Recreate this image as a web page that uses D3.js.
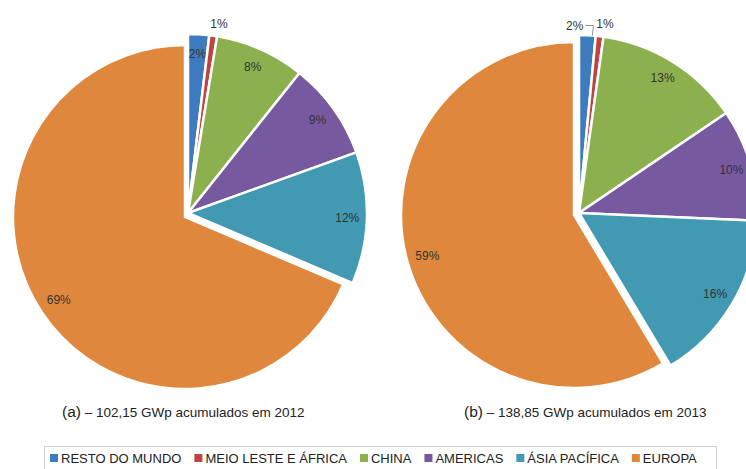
<!DOCTYPE html>
<html>
<head>
<meta charset="utf-8">
<script src="https://cdn.jsdelivr.net/npm/d3@7"></script>
<style>
  html, body { margin: 0; padding: 0; background: #fff; }
  svg { display: block; }
  text { font-family: "Liberation Sans", Arial, sans-serif; }
</style>
</head>
<body>
<svg id="chart" width="746" height="469"></svg>
<script>
// ---- data ----
const categories = ["RESTO DO MUNDO", "MEIO LESTE E ÁFRICA", "CHINA", "AMERICAS", "ÁSIA PACÍFICA", "EUROPA"];
const colors = ["#3F7CBF", "#C0433F", "#8DB04F", "#7759A0", "#4299B2", "#DF873C"];
const values2012 = [1.9, 0.7, 8.1, 8.8, 11.9, 68.6];
const values2013 = [1.5, 0.7, 13.3, 10.2, 15.7, 58.6];
const captionTags = ["(a)", "(b)"];
const captionTexts = [" – 102,15 GWp acumulados em 2012", " – 138,85 GWp acumulados em 2013"];

// ---- layout ----
const svg = d3.select("#chart");
const charts = [
  { values: values2012, cs: [188, 213], rs: 179, co: [185, 217], ro: 172, capX: 62 },
  { values: values2013, cs: [579, 213], rs: 178, co: [574, 215], ro: 173, capX: 464 }
];

const pie = d3.pie().sort(null).value(d => d.v);

charts.forEach((c, ci) => {
  const data = categories.map((name, i) => ({ name, v: c.values[i], color: colors[i] }));
  const arcs = pie(data);
  const total = d3.sum(c.values);
  const g = svg.append("g");

  arcs.forEach((a, i) => {
    const isMain = a.data.name === "EUROPA";
    const ctr = isMain ? c.co : c.cs;
    const R = isMain ? c.ro : c.rs;
    const arc = d3.arc().innerRadius(0).outerRadius(R);
    const sg = g.append("g").attr("transform", `translate(${ctr[0]},${ctr[1]})`);
    sg.append("path")
      .attr("d", arc(a))
      .attr("fill", a.data.color)
      .attr("stroke", "#fff")
      .attr("stroke-width", 2.5)
      .attr("stroke-linejoin", "miter");

    const pct = Math.round(a.data.v / total * 100) + "%";
    const span = a.endAngle - a.startAngle;
    const mid = (a.startAngle + a.endAngle) / 2;
    const lblStyle = t => t.attr("font-size", 12).attr("fill", "#333");

    if (span >= 0.113) {
      const d = R * (isMain ? 0.88 : 0.89);
      sg.append("text")
        .attr("x", Math.sin(mid) * d)
        .attr("y", -Math.cos(mid) * d)
        .attr("text-anchor", "middle")
        .attr("dominant-baseline", "central")
        .text(pct).call(lblStyle);
    } else if (a.data.v >= 1) {
      // small slice with leader line
      const ang = a.startAngle + span * 0.8;
      const ex = Math.sin(ang) * R, ey = -Math.cos(ang) * R;
      sg.append("polyline")
        .attr("points", `${ex},${ey} ${ex + 1},${ey - 10} ${ex - 7},${ey - 10}`)
        .attr("fill", "none").attr("stroke", "#777").attr("stroke-width", 0.8);
      sg.append("text")
        .attr("x", ex - 9).attr("y", ey - 10)
        .attr("text-anchor", "end")
        .attr("dominant-baseline", "central")
        .text(pct).call(lblStyle);
    } else {
      const d = R + 12;
      sg.append("text")
        .attr("x", Math.sin(mid) * d + 4)
        .attr("y", -Math.cos(mid) * d)
        .attr("text-anchor", "middle")
        .attr("dominant-baseline", "central")
        .text(pct).call(lblStyle);
    }
  });

  const cap = svg.append("text").attr("x", c.capX).attr("y", 417).attr("fill", "#222");
  cap.append("tspan").attr("font-size", 15.5).text(captionTags[ci]);
  cap.append("tspan").attr("font-size", 13.5).text(captionTexts[ci]);
});

// ---- legend ----
svg.append("rect")
  .attr("x", 44.5).attr("y", 446.5).attr("width", 672).attr("height", 30)
  .attr("fill", "none").attr("stroke", "#cfcfcf").attr("stroke-width", 1);

let lx = 50;
categories.forEach((name, i) => {
  svg.append("rect").attr("x", lx).attr("y", 454).attr("width", 8).attr("height", 8).attr("fill", colors[i]);
  const t = svg.append("text").attr("x", lx + 11).attr("y", 463)
    .attr("font-size", 13).attr("fill", "#222").text(name);
  lx = lx + 11 + t.node().getComputedTextLength() + 13;
});
</script>
</body>
</html>
